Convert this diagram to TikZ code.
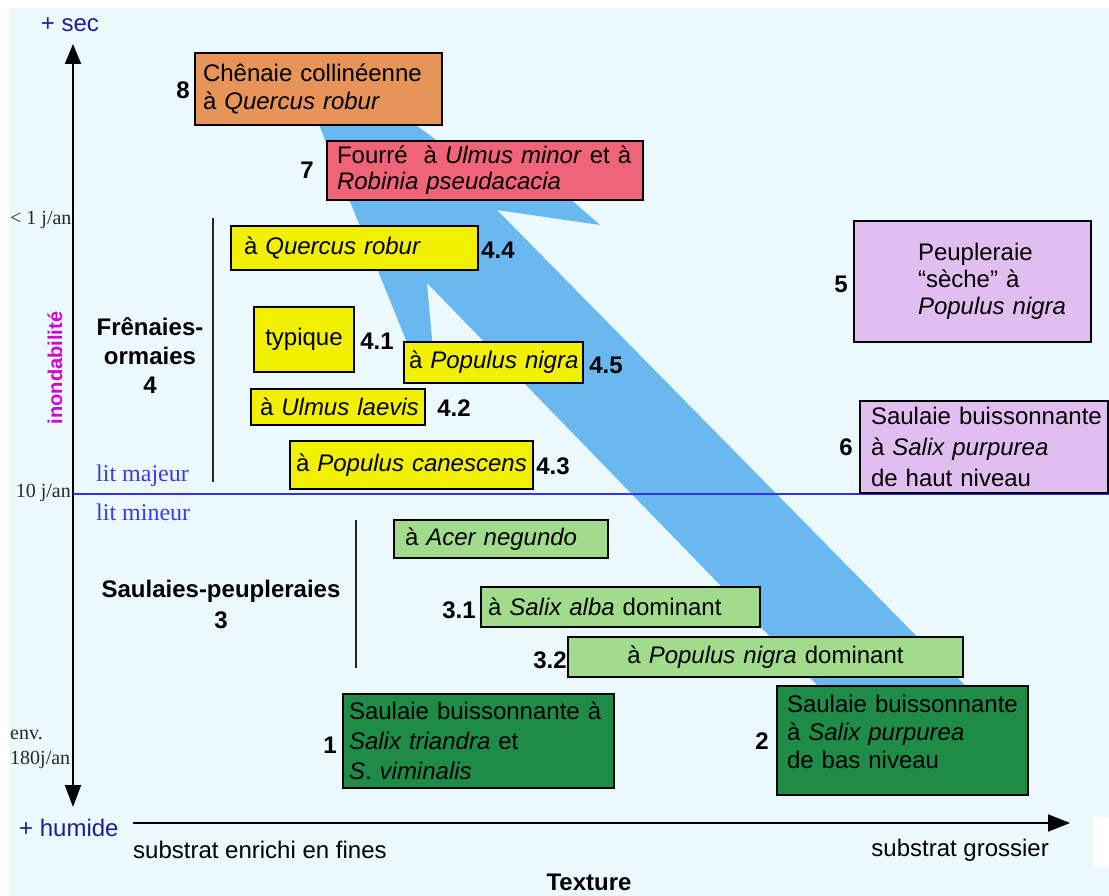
\documentclass[tikz,border=0pt]{standalone}
\usepackage{fontspec}
\setmainfont{Liberation Sans}
\newfontfamily\timesf{Liberation Serif}
\usetikzlibrary{arrows.meta}
\definecolor{bgc}{RGB}{235,248,252}
\definecolor{bandc}{RGB}{105,185,240}
\definecolor{orangec}{RGB}{230,148,88}
\definecolor{pinkc}{RGB}{240,100,120}
\definecolor{yellowc}{RGB}{240,240,0}
\definecolor{lilacc}{RGB}{225,190,240}
\definecolor{lgreenc}{RGB}{160,220,140}
\definecolor{dgreenc}{RGB}{30,140,70}
\definecolor{navyc}{RGB}{30,30,150}
\definecolor{litc}{RGB}{60,60,230}
\definecolor{linec}{RGB}{50,50,240}
\definecolor{magc}{RGB}{210,0,210}
\definecolor{grayt}{RGB}{40,40,40}
\tikzset{
  box/.style={draw=black, line width=1.6pt, inner ysep=0pt, align=left, font=\fontsize{24}{28}\selectfont},
  num/.style={inner sep=0pt, font=\bfseries\fontsize{24}{28}\selectfont},
  txt/.style={inner sep=0pt, font=\fontsize{24}{28}\selectfont},
  small/.style={inner sep=0pt, text=grayt, font=\timesf\fontsize{20}{24}\selectfont},
  lit/.style={inner sep=0pt, text=litc, font=\timesf\fontsize{24}{28}\selectfont},
  axis/.style={line width=2pt, draw=black},
  bracket/.style={line width=2pt, draw=black!85}
}
\begin{document}
\begin{tikzpicture}[x=1pt,y=-1pt]
\useasboundingbox (0,0) rectangle (1109,896);
\fill[white] (0,0) rectangle (1109,896);
\fill[bgc] (9,8) rectangle (1109,896);
\fill[white] (1093,817) rectangle (1109,867);

% blue band
\fill[bandc] (313,110) -- (395,110) -- (450,150) -- (560,190) -- (600,225) -- (497,210)
  -- (999,720) -- (851,720) -- (427,283) -- (433,350) -- (410,350) -- cycle;

% axes
\coordinate (ytop) at (73,44);
\coordinate (ybot) at (73,807);
\coordinate (xl) at (133,823);
\coordinate (xr) at (1070,823);
\draw[axis, {Triangle[length=20pt,width=16pt]}-{Triangle[length=22pt,width=16pt]}] (ytop) -- (ybot);
\draw[axis, -{Triangle[length=22pt,width=17pt]}] (xl) -- (xr);

% lit line
\coordinate (l1) at (73,494);
\coordinate (l2) at (1109,494);
\draw[linec, line width=2pt] (l1) -- (l2);

% brackets
\coordinate (f1) at (213,218);
\coordinate (f2) at (213,482);
\coordinate (s1) at (356,520);
\coordinate (s2) at (356,668);
\draw[bracket] (f1) -- (f2);
\draw[bracket] (s1) -- (s2);

% axis texts
\node[txt, text=navyc] (sec) at (70,25) {+ sec};
\node[txt, text=navyc, anchor=west] (hum) at (19,828) {+ humide};
\node[txt, anchor=west] (fines) at (133,850) {substrat enrichi en fines};
\node[txt, anchor=east] (gros) at (1049,850) {substrat grossier};
\node[num] (tex) at (589,882) {Texture};
\node[inner sep=0pt, rotate=90, text=magc, font=\bfseries\fontsize{20}{24}\selectfont] (inond) at (55,368) {inondabilité};
\node[small, anchor=west] (lt1) at (10,220) {< 1 j/an};
\node[small, anchor=east] (lt10) at (71,493) {10 j/an};
\node[small, anchor=west] (env) at (10,735) {env.};
\node[small, anchor=west] (env2) at (10,760) {180j/an};
\node[lit, anchor=west] (maj) at (96,476) {lit majeur};
\node[lit, anchor=west] (min) at (96,512) {lit mineur};

% group labels
\node[inner sep=0pt, align=center, font=\bfseries\fontsize{24}{29}\selectfont] (g4) at (150,356) {Frênaies-\\ormaies\\4};
\node[inner sep=0pt, align=center, font=\bfseries\fontsize{24}{31}\selectfont] (g3) at (221,604) {Saulaies-peupleraies\\3};

% boxes
\node[box, fill=orangec, text width=231pt, inner xsep=8pt, minimum height=72pt] (b8) at (318.5,89)
  {\mbox{Chênaie collinéenne}\\\mbox{à \textit{Quercus robur}}};
\node[box, fill=pinkc, text width=296pt, inner xsep=10pt, minimum height=59pt, font=\fontsize{24}{26}\selectfont] (b7) at (485,170.5)
  {\mbox{Fourré~ à \textit{Ulmus minor} et à}\\\mbox{\textit{Robinia pseudacacia}}};
\node[box, fill=yellowc, text width=221pt, inner xsep=13pt, minimum height=44pt] (b44) at (354.5,248)
  {\mbox{à \textit{Quercus robur}}};
\node[box, fill=yellowc, text width=100pt, inner xsep=0pt, minimum height=65pt, align=center] (b41) at (304,339.5)
  {typique};
\node[box, fill=yellowc, text width=169pt, inner xsep=5pt, minimum height=41pt] (b45) at (493.5,362.5)
  {\mbox{à \textit{Populus nigra}}};
\node[box, fill=yellowc, text width=156pt, inner xsep=9pt, minimum height=36pt] (b42) at (338,407)
  {\mbox{à \textit{Ulmus laevis}}};
\node[box, fill=yellowc, text width=231pt, inner xsep=6pt, minimum height=48pt] (b43) at (411.5,465)
  {\mbox{à \textit{Populus canescens}}};
\node[box, fill=lilacc, text width=109pt, inner xsep=64pt, minimum height=121pt, font=\fontsize{24}{27}\selectfont] (b5) at (972.5,281.5)
  {\mbox{Peupleraie}\\\mbox{“sèche” à}\\\mbox{\textit{Populus nigra}}};
\node[box, fill=lilacc, text width=226pt, inner xsep=11pt, minimum height=92pt, font=\fontsize{24}{31}\selectfont] (b6) at (984,447)
  {\mbox{Saulaie buissonnante}\\\mbox{à \textit{Salix purpurea}}\\\mbox{de haut niveau}};
\node[box, fill=lgreenc, text width=192pt, inner xsep=11pt, minimum height=38pt] (bacer) at (501,539)
  {\mbox{à \textit{Acer negundo}}};
\node[box, fill=lgreenc, text width=265pt, inner xsep=7pt, minimum height=40pt] (b31) at (620.5,607)
  {\mbox{à \textit{Salix alba} dominant}};
\node[box, fill=lgreenc, text width=395pt, inner xsep=0pt, minimum height=40pt, align=center] (b32) at (765.5,657)
  {à \textit{Populus nigra} dominant};
\node[box, fill=dgreenc, text width=259pt, inner xsep=6pt, minimum height=94pt, font=\fontsize{24}{30}\selectfont] (b1) at (478.5,741)
  {\mbox{Saulaie buissonnante à}\\\mbox{\textit{Salix triandra} et}\\\mbox{\textit{S}. \textit{viminalis}}};
\node[box, fill=dgreenc, text width=231pt, inner xsep=10pt, minimum height=109pt] (b2) at (902.5,740.5)
  {\mbox{Saulaie buissonnante}\\\mbox{à \textit{Salix purpurea}}\\\mbox{de bas niveau}\\[-10pt]\mbox{}};

% number labels
\node[num] (n8) at (183,90) {8};
\node[num] (n7) at (307,170) {7};
\node[num] (n44) at (498,250) {4.4};
\node[num] (n41) at (377,341) {4.1};
\node[num] (n45) at (606,365) {4.5};
\node[num] (n42) at (454,408) {4.2};
\node[num] (n43) at (553,466) {4.3};
\node[num] (n5) at (841,284) {5};
\node[num] (n6) at (846,447) {6};
\node[num] (n31) at (459,610) {3.1};
\node[num] (n32) at (550,660) {3.2};
\node[num] (n1) at (330,745) {1};
\node[num] (n2) at (762,741) {2};
\end{tikzpicture}
\end{document}
